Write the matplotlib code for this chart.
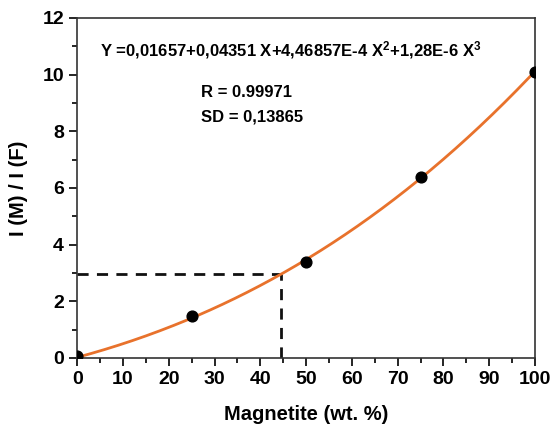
import numpy as np
import matplotlib.pyplot as plt

plt.rcParams['font.family'] = ['Liberation Sans', 'DejaVu Sans']
plt.rcParams['font.weight'] = 'bold'
plt.rcParams['mathtext.fontset'] = 'custom'
plt.rcParams['mathtext.bf'] = 'Liberation Sans:bold'
plt.rcParams['mathtext.default'] = 'bf'

# measured ratios
magnetite = [0, 25, 50, 75, 100]
ratio = [0.05, 1.48, 3.38, 6.4, 10.1]

# cubic fit coefficients, highest power first
fit_coef = [1.28e-6, 4.46857e-4, 0.04351, 0.01657]

# read-off point
x_read = 44.5
y_read = 2.95

fig = plt.figure(figsize=(5.51, 4.25), dpi=100)
ax = fig.add_axes([0.14, 0.158, 0.831, 0.8])

xs = np.linspace(0, 100, 300)
ax.plot(xs, np.polyval(fit_coef, xs), color='#e8722c', lw=2, zorder=3)
ax.scatter(magnetite, ratio, s=60, color='black', zorder=4)

ax.plot([0, x_read], [y_read, y_read], ls=(0, (4, 3)), color='#111111', lw=2)
ax.plot([x_read, x_read], [0, y_read], ls=(0, (4, 3)), color='#111111', lw=2)

ax.set_xlim(0, 100)
ax.set_ylim(0, 12)
ax.set_xticks(range(0, 101, 10))
ax.set_xticks(range(5, 100, 10), minor=True)
ax.set_yticks(range(0, 13, 2))
ax.set_yticks(range(1, 12, 2), minor=True)
ax.tick_params(which='both', direction='out', width=1.2, labelsize=14)
ax.tick_params(which='major', length=6)
ax.tick_params(which='minor', length=3.5)
for s in ax.spines.values():
    s.set_linewidth(1.2)
    s.set_color('#333333')

ax.set_xlabel('Magnetite (wt. %)', fontsize=14.5, fontweight='bold', labelpad=12)
ax.set_ylabel('I (M) / I (F)', fontsize=14.5, fontweight='bold', labelpad=10)

ax.text(5, 10.85, r'Y =0,01657+0,04351 X+4,46857E-4 X$^{2}$+1,28E-6 X$^{3}$',
        fontsize=12, fontweight='bold', va='center')
ax.text(27, 9.35, 'R = 0.99971', fontsize=12, fontweight='bold', va='center')
ax.text(27, 8.5, 'SD = 0,13865', fontsize=12, fontweight='bold', va='center')

fig.savefig('out.png', dpi=100)
